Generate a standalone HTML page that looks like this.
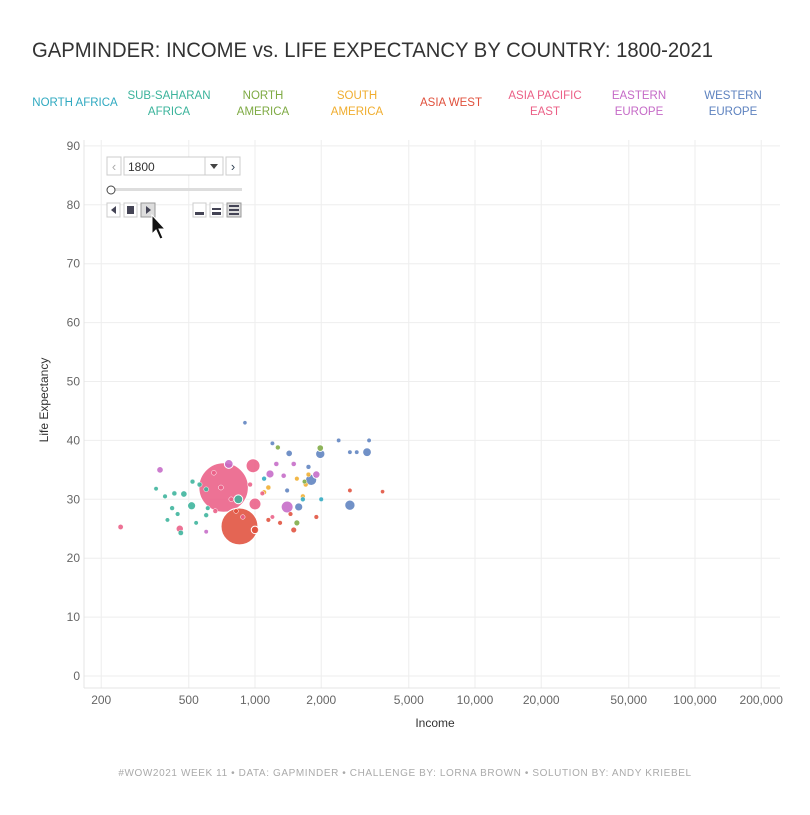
<!DOCTYPE html>
<html><head><meta charset="utf-8"><style>
body{margin:0;background:#fff;font-family:"Liberation Sans",sans-serif}
svg text{font-family:"Liberation Sans",sans-serif}
</style></head><body>
<svg id="c" width="810" height="810">
<text x="32" y="57" font-size="21" fill="#333" textLength="681" lengthAdjust="spacingAndGlyphs">GAPMINDER: INCOME vs. LIFE EXPECTANCY BY COUNTRY: 1800-2021</text>
<g id="legend" font-size="11.5" text-anchor="middle"></g>
<g id="grid"></g>
<g id="marks"></g>
<text x="48" y="400" font-size="12" fill="#333" text-anchor="middle" transform="rotate(-90 48 400)">Life Expectancy</text>
<text x="435" y="727" font-size="12" fill="#333" text-anchor="middle">Income</text>
<text x="405" y="776" font-size="10" fill="#aaa" text-anchor="middle" letter-spacing="0.6">#WOW2021 WEEK 11 • DATA: GAPMINDER • CHALLENGE BY: LORNA BROWN • SOLUTION BY: ANDY KRIEBEL</text>
<g>
<rect x="107" y="157" width="14" height="18" fill="#fff" stroke="#ccc"/>
<text x="114" y="171" font-size="13" fill="#aaa" text-anchor="middle">‹</text>
<rect x="124" y="157" width="99" height="18" fill="#fff" stroke="#ccc"/>
<text x="128" y="171" font-size="12" fill="#333">1800</text>
<line x1="205" y1="157" x2="205" y2="175" stroke="#ccc"/>
<path d="M210,164 L218,164 L214,169 Z" fill="#444"/>
<rect x="226" y="157" width="14" height="18" fill="#fff" stroke="#ccc"/>
<text x="233" y="171" font-size="13" fill="#345" text-anchor="middle">›</text>
<rect x="110" y="188" width="132" height="3" fill="#ddd"/>
<circle cx="111" cy="190" r="4" fill="#fff" stroke="#444"/>
<rect x="107" y="203" width="13" height="14" fill="#fff" stroke="#ccc"/>
<path d="M116,206 L111,210 L116,214Z" fill="#445"/>
<rect x="124" y="203" width="13" height="14" fill="#fff" stroke="#ccc"/>
<rect x="127" y="206" width="7" height="8" fill="#445"/>
<rect x="141" y="203" width="14" height="14" fill="#ddd" stroke="#999"/>
<path d="M146,206 L151,210 L146,214Z" fill="#445"/>
<rect x="193" y="203" width="13" height="14" fill="#fff" stroke="#ccc"/>
<rect x="195" y="212" width="9" height="3" fill="#445"/>
<rect x="210" y="203" width="13" height="14" fill="#fff" stroke="#ccc"/>
<rect x="212" y="208" width="9" height="2" fill="#445"/><rect x="212" y="212" width="9" height="3" fill="#445"/>
<rect x="227" y="203" width="14" height="14" fill="#ddd" stroke="#999"/>
<rect x="229" y="205" width="10" height="2" fill="#445"/><rect x="229" y="209" width="10" height="2" fill="#445"/><rect x="229" y="213" width="10" height="2" fill="#445"/>
<path d="M152,215 L152,234 L156,230 L160,239 L163,238 L159,229 L165,229 Z" fill="#111" stroke="#fff" stroke-width="1"/>
</g>
</svg>
<script>
const regions=["NORTH AFRICA","SUB-SAHARAN|AFRICA","NORTH|AMERICA","SOUTH|AMERICA","ASIA WEST","ASIA PACIFIC|EAST","EASTERN|EUROPE","WESTERN|EUROPE"];
const colors=["#2fa9c0","#3ab39b","#7eaa43","#f0ad2e","#e0503c","#eb5f86","#c56ac7","#5d82bf"];
const xTicks=[200,500,1000,2000,5000,10000,20000,50000,100000,200000];
const xTickLabels=["200","500","1,000","2,000","5,000","10,000","20,000","50,000","100,000","200,000"];
const yTicks=[0,10,20,30,40,50,60,70,80,90];
const income=[720,850,980,1000,760,840,1800,1980,2700,3230,1580,1430,1400,1170,1900,1980,1550,1500,245,455,515,475,460,370,1100,1000,
355,390,420,430,400,445,520,560,600,610,540,600,650,700,780,880,950,1080,1200,660,820,1150,1300,2700,3800,1900,1450,1150,1700,1650,1550,1750,1250,1500,1350,600,900,1200,2400,2700,2900,3300,1750,1400,1270,1680,1650,1100,2000];
const life=[32,25.4,35.7,29.2,36,30,33.3,37.7,29,38,28.7,37.8,28.7,34.3,34.2,38.7,26,24.8,25.3,25,28.9,30.9,24.3,35,31.2,24.8,
31.8,30.5,28.5,31,26.5,27.5,33,32.5,31.7,28.5,26,27.3,34.5,32,30,27,32.5,31,27,28,28,26.5,26,31.5,31.3,27,27.5,32,32.5,30.5,33.5,34.2,36,36,34,24.5,43,39.5,40,38,38,40,35.5,31.5,38.8,33,30,33.5,30];
const pop=[320,170,18,12,5,5,10,6,8,5,4,2,12,4,3,2,1.5,1.5,0.8,3,4,2,0.8,2,0.5,3,
0.3,0.4,0.5,0.6,0.3,0.4,0.5,0.6,0.5,0.4,0.3,0.5,0.5,0.6,0.5,0.4,0.5,0.4,0.3,0.5,0.4,0.4,0.4,0.3,0.2,0.4,0.4,0.6,0.5,0.5,0.4,0.5,0.6,0.6,0.6,0.3,0.2,0.3,0.3,0.3,0.3,0.3,0.5,0.4,0.5,0.4,0.5,0.5,0.4];
const region=[5,4,5,5,6,1,7,7,7,7,7,7,6,6,6,2,2,4,5,5,1,1,1,6,3,4,
1,1,1,1,1,1,1,1,1,1,1,1,5,5,5,5,5,5,5,5,4,4,4,4,4,4,4,3,3,3,3,3,6,6,6,6,7,7,7,7,7,7,7,7,2,2,0,0,0];
const NS="http://www.w3.org/2000/svg";
const x=v=>255+220*(Math.log10(v)-3);
const y=v=>676-5.89*v;
const r=p=>1.5+1.3*Math.sqrt(p);
function el(t,a,p){const e=document.createElementNS(NS,t);for(const k in a)e.setAttribute(k,a[k]);p.appendChild(e);return e;}
const lg=document.getElementById('legend');
regions.forEach((n,i)=>{const parts=n.split('|');const cx=75+i*94;
 const t=el('text',{x:cx,y:parts.length>1?99:106,fill:colors[i]},lg);
 
 
 parts.forEach((s,j)=>{const ts=el('tspan',{x:cx,dy:j?16:0},t);ts.textContent=s;});});
const g=document.getElementById('grid');
yTicks.forEach(v=>{const l=el('line',{x1:84,x2:780,y1:y(v),y2:y(v),stroke:'#eee'},g);
 
 
 const t=el('text',{x:80,y:y(v)+4,'font-size':12,fill:'#666','text-anchor':'end'},g);t.textContent=v;
 
 });
xTicks.forEach((v,i)=>{const l=el('line',{x1:x(v),x2:x(v),y1:140,y2:688,stroke:'#eee'},g);
 
 
 const t=el('text',{x:x(v),y:704,'font-size':12,fill:'#666','text-anchor':'middle'},g);t.textContent=xTickLabels[i];
 
 });
el('line',{x1:84,x2:84,y1:140,y2:688,stroke:'#e4e4e4'},g);
el('line',{x1:84,x2:780,y1:688,y2:688,stroke:'#e4e4e4'},g);
const m=document.getElementById('marks');
const idx=income.map((_,i)=>i).sort((a,b)=>pop[b]-pop[a]);
idx.forEach(i=>{const c=el('circle',{cx:x(income[i]),cy:y(life[i]),r:r(pop[i]),fill:colors[region[i]],'fill-opacity':0.88,stroke:'#fff','stroke-width':r(pop[i])>3?1:0.5},m);
 
 });
</script>
</body></html>
